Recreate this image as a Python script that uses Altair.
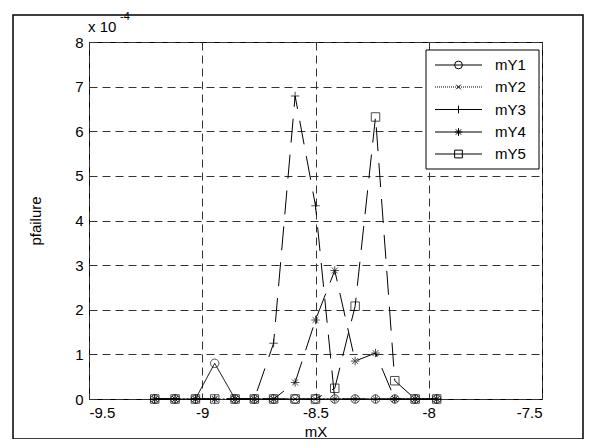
import altair as alt
import pandas as pd

# ---- data (y in units of 1e-4) ----
x_vals = [-9.21, -9.12, -9.03, -8.945, -8.855, -8.77, -8.685, -8.59, -8.50,
          -8.415, -8.325, -8.235, -8.15, -8.06, -7.965]
series_names = ["mY1", "mY2", "mY3", "mY4", "mY5"]
mY1 = [0, 0, 0, 0.80, 0, 0, 0, 0, 0, 0, 0, 0, 0, 0, 0]
mY2 = [0, 0, 0, 0, 0, 0, 0, 0, 0, 0, 0, 0, 0, 0, 0]
mY3 = [0, 0, 0, 0, 0, 0, 1.25, 6.79, 4.33, 0, 0, 0, 0, 0, 0]
mY4 = [0, 0, 0, 0, 0, 0, 0, 0.37, 1.77, 2.88, 0.85, 1.03, 0, 0, 0]
mY5 = [0, 0, 0, 0, 0, 0, 0, 0, 0, 0.24, 2.08, 6.32, 0.41, 0, 0]
x_ticks = [-9.5, -9, -8.5, -8, -7.5]
y_ticks = [0, 1, 2, 3, 4, 5, 6, 7, 8]

all_series = [mY1, mY2, mY3, mY4, mY5]
rows = []
for name, vals in zip(series_names, all_series):
    for xv, yv in zip(x_vals, vals):
        rows.append({"x": xv, "y": yv, "series": name})
df = pd.DataFrame(rows)

FONT = "Liberation Sans"
P_PLUS = "M-1,0L1,0M0,-1L0,1"
P_X = "M-0.6,-0.6L0.6,0.6M-0.6,0.6L0.6,-0.6"
P_STAR = "M-1,0L1,0M0,-1L0,1M-0.7,-0.7L0.7,0.7M-0.7,0.7L0.7,-0.7"
shapes = ["circle", P_X, P_PLUS, P_STAR, "square"]
dashes = [[1, 0], [2, 2], [24, 12], [24, 12], [24, 12]]

xs = alt.Scale(domain=[-9.5, -7.5], nice=False, zero=False)
ys = alt.Scale(domain=[0, 8], nice=False)

base = alt.Chart(df)

lines = base.mark_line(color="black", strokeWidth=1).encode(
    x=alt.X("x:Q", scale=xs,
            axis=alt.Axis(values=x_ticks, title="mX", labelExpr="datum.value + ''",
                          titlePadding=4)),
    y=alt.Y("y:Q", scale=ys,
            axis=alt.Axis(values=y_ticks, title="pfailure", labelExpr="datum.value + ''",
                          titlePadding=31)),
    strokeDash=alt.StrokeDash("series:N", scale=alt.Scale(domain=series_names, range=dashes),
                              legend=None),
    detail="series:N",
)

points = base.mark_point(color="black", filled=False, size=72, strokeWidth=1).encode(
    x=alt.X("x:Q", scale=xs),
    y=alt.Y("y:Q", scale=ys),
    shape=alt.Shape("series:N", scale=alt.Scale(domain=series_names, range=shapes),
                    legend=None),
)

one = pd.DataFrame({"a": [0]})

# outer figure border
border = alt.Chart(one).mark_rect(fillOpacity=0, stroke="black", strokeWidth=1.5).encode(
    x=alt.value(-76), x2=alt.value(494), y=alt.value(-27), y2=alt.value(397)
)

# exponent label
exp1 = alt.Chart(one).mark_text(text="x 10", align="left", baseline="alphabetic",
                                font=FONT, fontSize=15, color="black").encode(
    x=alt.value(-1), y=alt.value(-10)
)
exp2 = alt.Chart(one).mark_text(text="-4", align="left", baseline="alphabetic",
                                font=FONT, fontSize=11, color="black").encode(
    x=alt.value(31), y=alt.value(-22)
)

# legend
leg_layers = [
    alt.Chart(one).mark_rect(fill="white", stroke="black", strokeWidth=1).encode(
        x=alt.value(337), x2=alt.value(450), y=alt.value(8), y2=alt.value(127)
    )
]
leg_y = [23, 45, 67.5, 90, 112]
leg_line_dash = [[1, 0], [1, 1], [1, 0], [1, 0], [1, 0]]
for name, shp, yy, dd in zip(series_names, shapes, leg_y, leg_line_dash):
    leg_layers.append(
        alt.Chart(one).mark_rule(color="black", strokeWidth=1, strokeDash=dd).encode(
            x=alt.value(346), x2=alt.value(393), y=alt.value(yy)
        )
    )
    leg_layers.append(
        alt.Chart(one).mark_point(shape=shp, size=60, filled=False, color="black",
                                  strokeWidth=1, opacity=1).encode(
            x=alt.value(369.5), y=alt.value(yy)
        )
    )
    leg_layers.append(
        alt.Chart(one).mark_text(text=name, align="left", baseline="middle",
                                 font=FONT, fontSize=15, color="black").encode(
            x=alt.value(406), y=alt.value(yy)
        )
    )

chart = alt.layer(border, lines, points, exp1, exp2, *leg_layers).properties(
    width=453,
    height=357,
    autosize=alt.AutoSizeParams(type="none"),
    padding={"left": 81, "top": 34, "right": 47, "bottom": 40},
    background="white",
).configure_view(
    stroke="black", strokeWidth=1
).configure_axis(
    labelFont=FONT, labelFontSize=15, labelColor="black",
    titleFont=FONT, titleFontSize=15, titleColor="black", titleFontWeight="normal",
    domain=False, ticks=False, labelPadding=6,
    grid=True, gridDash=[8, 5], gridColor="#333", gridOpacity=1, gridWidth=1,
)

chart.save("out.html", embed_options={"renderer": "svg", "actions": False})
